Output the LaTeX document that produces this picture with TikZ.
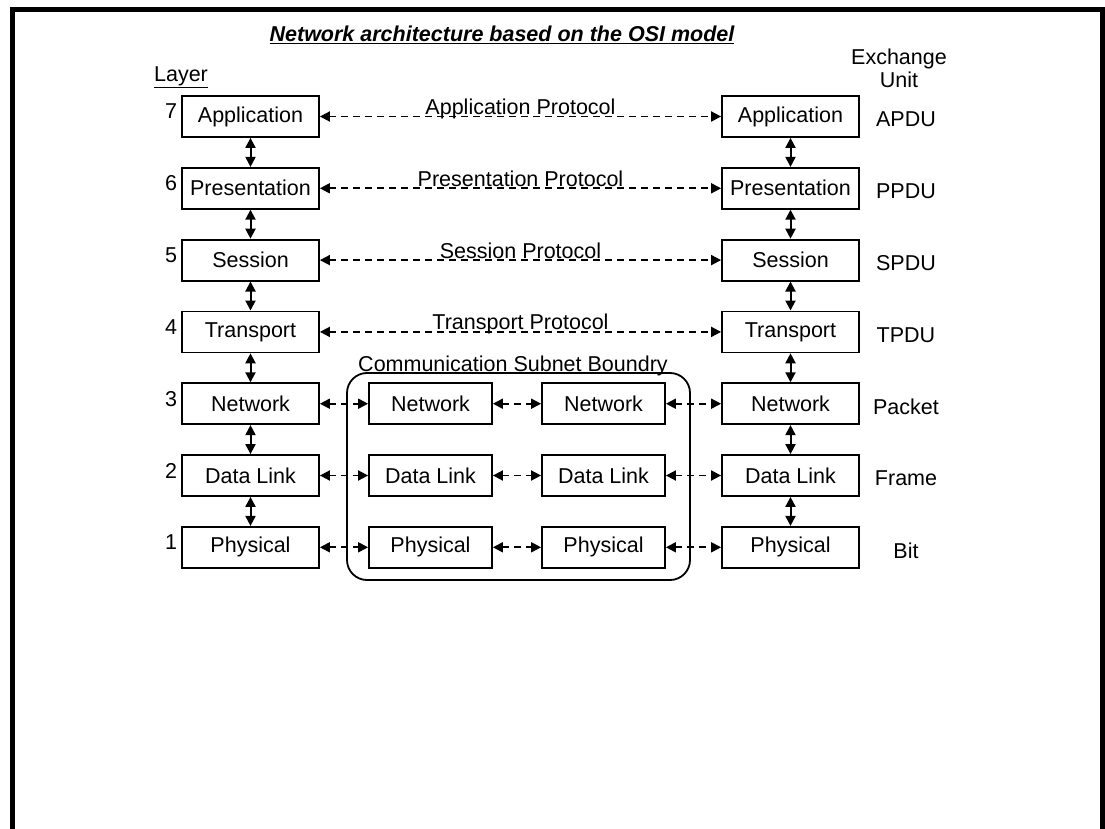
\documentclass[tikz,border=0pt]{standalone}
\usepackage{fontspec}
\setmainfont{Liberation Sans}
\usetikzlibrary{arrows.meta}

\begin{document}
\begin{tikzpicture}
  [x=1pt,y=-1pt,>={Triangle[length=10pt,width=10pt]},
   every node/.style={font=\fontsize{21.5}{23}\selectfont}]

  \tikzstyle{layerbox} = [draw,line width=1.8pt,minimum width=137pt,minimum height=41pt,inner sep=0pt]
  \tikzstyle{relaybox} = [layerbox,minimum width=123pt]
  \tikzstyle{peer} = [<->,line width=1.8pt,dash pattern=on 7pt off 5pt]
  \tikzstyle{updown} = [<->,line width=2pt]
  \tikzstyle{protocol} = [anchor=base,inner sep=0pt,yshift=2pt]

  \useasboundingbox (0,0) rectangle (1105,829);
  \draw[line width=5pt] (12.5,829) -- (12.5,9.5) -- (1102.5,9.5) -- (1102.5,829);

  \node (title) at (502,35) {\fontsize{21.5}{23}\selectfont\bfseries\itshape\underline{Network architecture based on the OSI model}};
  \node (layer) at (181,77) {\underline{Layer}};
  \node[align=center] (unit) at (899,68) {Exchange\\Unit};

  \node[layerbox] (l7) at (250.5,116.5) {Application};
  \node[layerbox] (l6) at (250.5,188.3) {Presentation};
  \node[layerbox] (l5) at (250.5,260.1) {Session};
  \node[layerbox] (l4) at (250.5,331.9) {Transport};
  \node[layerbox] (l3) at (250.5,403.7) {Network};
  \node[layerbox] (l2) at (250.5,475.5) {Data Link};
  \node[layerbox] (l1) at (250.5,547.3) {Physical};

  \node[layerbox] (r7) at (790.5,116.5) {Application};
  \node[layerbox] (r6) at (790.5,188.3) {Presentation};
  \node[layerbox] (r5) at (790.5,260.1) {Session};
  \node[layerbox] (r4) at (790.5,331.9) {Transport};
  \node[layerbox] (r3) at (790.5,403.7) {Network};
  \node[layerbox] (r2) at (790.5,475.5) {Data Link};
  \node[layerbox] (r1) at (790.5,547.3) {Physical};

  \node[draw,line width=1.8pt,rounded corners=20pt,minimum width=343pt,minimum height=207pt] (subnet) at (518.5,476.5) {};
  \node[anchor=base] (subnetname) at (513,371) {Communication Subnet Boundry};

  \node[relaybox] (a3) at (430.5,403.7) {Network};
  \node[relaybox] (a2) at (430.5,475.5) {Data Link};
  \node[relaybox] (a1) at (430.5,547.3) {Physical};
  \node[relaybox] (b3) at (603.5,403.7) {Network};
  \node[relaybox] (b2) at (603.5,475.5) {Data Link};
  \node[relaybox] (b1) at (603.5,547.3) {Physical};

  \node (n7) at (171,111.5) {7};
  \node (n6) at (171,183.3) {6};
  \node (n5) at (171,255.1) {5};
  \node (n4) at (171,326.9) {4};
  \node (n3) at (171,398.7) {3};
  \node (n2) at (171,470.5) {2};
  \node (n1) at (171,542.3) {1};

  \node (u7) at (906,119.5) {APDU};
  \node (u6) at (906,191.3) {PPDU};
  \node (u5) at (906,263.1) {SPDU};
  \node (u4) at (906,334.9) {TPDU};
  \node (u3) at (906,406.7) {Packet};
  \node (u2) at (906,478.5) {Frame};
  \node (u1) at (906,550.3) {Bit};

  \path[updown]
        (l7) edge (l6) (l6) edge (l5) (l5) edge (l4)
        (l4) edge (l3) (l3) edge (l2) (l2) edge (l1)
        (r7) edge (r6) (r6) edge (r5) (r5) edge (r4)
        (r4) edge (r3) (r3) edge (r2) (r2) edge (r1);

  \path[peer]
        (l7) edge node[protocol] {Application Protocol} (r7)
        (l6) edge node[protocol] {Presentation Protocol} (r6)
        (l5) edge node[protocol] {Session Protocol} (r5)
        (l4) edge node[protocol] {Transport Protocol} (r4)
        (l3) edge (a3) (a3) edge (b3) (b3) edge (r3)
        (l2) edge (a2) (a2) edge (b2) (b2) edge (r2)
        (l1) edge (a1) (a1) edge (b1) (b1) edge (r1);
\end{tikzpicture}
\end{document}
